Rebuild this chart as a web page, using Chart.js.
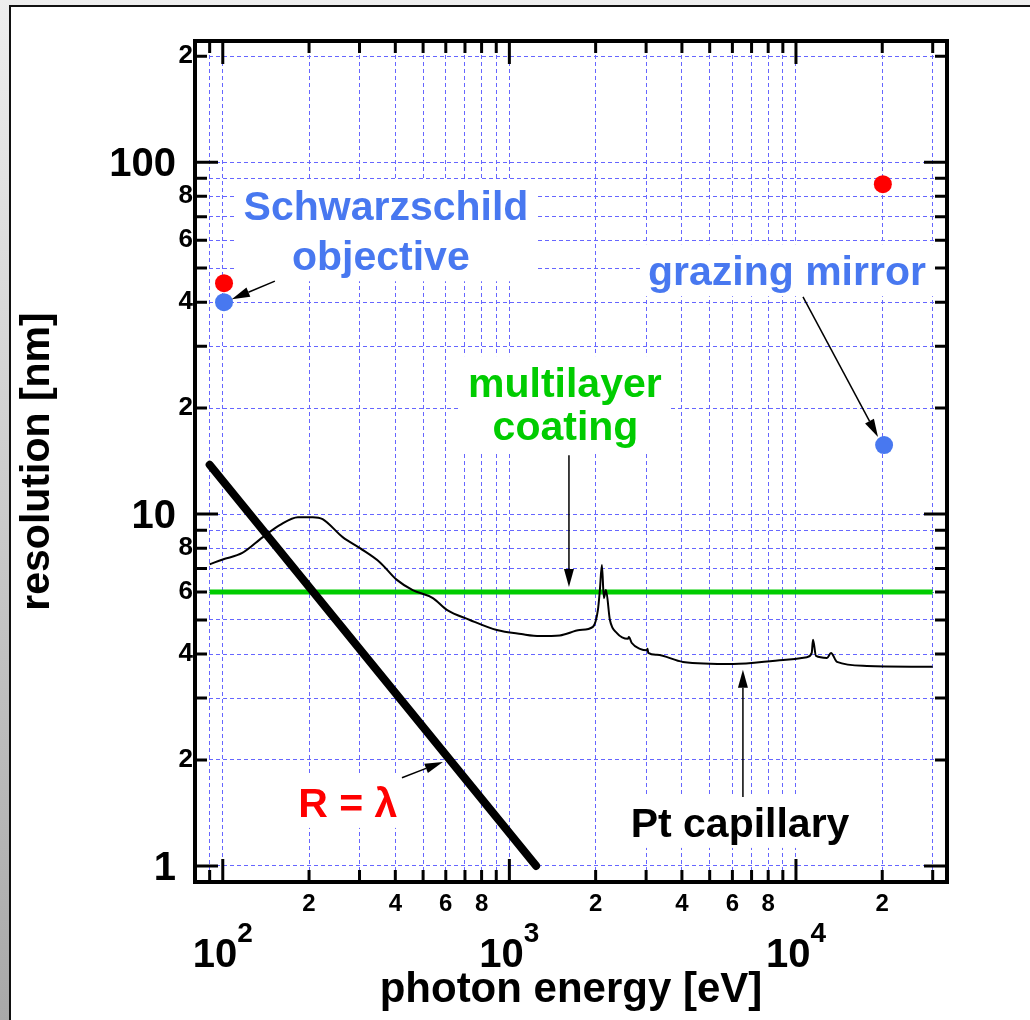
<!DOCTYPE html>
<html>
<head>
<meta charset="utf-8">
<title>resolution vs photon energy</title>
<script src="https://cdn.jsdelivr.net/npm/chart.js"></script>
<style>
    html, body { margin: 0; padding: 0; }
    body {
        width: 1030px; height: 1020px; overflow: hidden; position: relative;
        background: linear-gradient(#eeeeee, #a8a8a8);
    }
    .sheet {
        position: absolute; left: 9px; top: 5px; right: -10px; bottom: -10px;
        background: #fff; border-left: 2px solid #111; border-top: 2px solid #111;
    }
    #chart { position: absolute; left: 0; top: 0; }
</style>
</head>
<body>
<div class="sheet"></div>
<canvas id="chart" width="1030" height="1020"></canvas>
<script>
// ** Datos **
const xTicks = [90, 100, 200, 300, 400, 500, 600, 700, 800, 900,
    1000, 2000, 3000, 4000, 5000, 6000, 7000, 8000, 9000,
    10000, 20000, 30000];
const yTicks = [1, 2, 3, 4, 5, 6, 7, 8, 9, 10, 20, 30, 40, 50, 60, 70, 80, 90, 100, 200];

// R = lambda
const lambdaE = [90, 1240];
const lambdaR = [13.8, 1.0];

// multilayer coating
const multilayerE = [90, 30000];
const multilayerR = [6, 6];

// Pt capillary
const ptE = [90, 100, 117, 138, 158, 183, 206, 223, 262, 301,
    353, 405, 460, 541, 605, 728, 904, 1100, 1276, 1500,
    1761, 1956, 2037, 2069, 2103, 2137, 2172, 2243, 2373, 2592,
    2613, 2674, 2855, 3020, 3035, 3052, 3273, 4033, 6039, 9023,
    10925, 11350, 11467, 11744, 12830, 13250, 13903, 17690, 30000];
const ptR = [7.2, 7.43, 7.75, 8.6, 9.3, 9.8, 9.8, 9.68, 8.6, 8.0,
    7.3, 6.5, 6.08, 5.77, 5.34, 5.0, 4.68, 4.56, 4.5, 4.52,
    4.68, 4.78, 5.34, 6.08, 7.17, 5.77, 6.08, 5.0, 4.59, 4.42,
    4.47, 4.30, 4.14, 4.10, 4.14, 4.03, 3.98, 3.80, 3.75, 3.85,
    3.92, 4.03, 4.39, 3.95, 3.90, 4.03, 3.80, 3.70, 3.68];

// puntos rojos y azules
const redE = [101, 20100];
const redR = [45.3, 86.6];
const blueE = [101, 20300];
const blueR = [40.0, 15.7];

const FONT = "'Liberation Sans', Arial, sans-serif";
const BLUE = '#4878f0';
const GREEN = '#00cc00';
const GRID = '#6666ff';

// textos y flechas, en coordenadas de datos (E en eV, R en nm)
const notes = [
    { lines: ['Schwarzschild', 'objective'], e: [371, 356], r: [68.4, 49.3], color: BLUE },
    { lines: ['grazing mirror'], e: [9300], r: [44.7], color: BLUE },
    { lines: ['multilayer', 'coating'], e: [1562, 1570], r: [21.5, 16.2], color: GREEN },
    { lines: ['R = \u03bb'], e: [273], r: [1.378], color: '#ff0000' },
    { lines: ['Pt capillary'], e: [6380], r: [1.209], color: '#000' },
];
const arrows = [
    { from: [152, 45.9], to: [107.5, 40.8] },
    { from: [10580, 41.4], to: [19330, 16.55] },
    { from: [1614, 14.7], to: [1614, 6.2] },
    { from: [422, 1.78], to: [586, 1.975] },
    { from: [6530, 1.57], to: [6530, 3.61] },
];

const toPoints = (xs, ys) => xs.map((v, i) => ({ x: v, y: ys[i] }));
const mantissa = v => Math.round(v / Math.pow(10, Math.floor(Math.log10(v) + 1e-9)));
const minorLabel = v => [2, 4, 6, 8].includes(mantissa(v)) ? String(mantissa(v)) : '';

// ** Cajas blancas detrás de los textos **
const notesPlugin = {
    id: 'notes',
    beforeDatasetsDraw(chart) {
        const { ctx, scales: { x, y } } = chart;
        ctx.save();
        ctx.font = `bold 41px ${FONT}`;
        ctx.fillStyle = '#fff';
        notes.forEach(n => {
            let l = Infinity, r = -Infinity;
            n.lines.forEach((t, i) => {
                const w = ctx.measureText(t).width;
                const cx = x.getPixelForValue(n.e[i]);
                l = Math.min(l, cx - w / 2);
                r = Math.max(r, cx + w / 2);
            });
            const top = y.getPixelForValue(n.r[0]) - 41;
            const bottom = y.getPixelForValue(n.r[n.r.length - 1]) + 11;
            ctx.fillRect(l - 8, top, r - l + 16, bottom - top);
        });
        ctx.restore();
    },
    afterDatasetsDraw(chart) {
        const { ctx, scales: { x, y } } = chart;
        ctx.save();
        ctx.font = `bold 41px ${FONT}`;
        ctx.textAlign = 'center';
        ctx.textBaseline = 'alphabetic';
        notes.forEach(n => {
            ctx.fillStyle = n.color;
            n.lines.forEach((t, i) => {
                ctx.fillText(t, x.getPixelForValue(n.e[i]), y.getPixelForValue(n.r[i]));
            });
        });

        ctx.strokeStyle = '#000';
        ctx.fillStyle = '#000';
        ctx.lineWidth = 1.5;
        arrows.forEach(a => {
            const x0 = x.getPixelForValue(a.from[0]), y0 = y.getPixelForValue(a.from[1]);
            const x1 = x.getPixelForValue(a.to[0]), y1 = y.getPixelForValue(a.to[1]);
            const ang = Math.atan2(y1 - y0, x1 - x0);
            const head = 18, half = 5;
            const bx = x1 - head * Math.cos(ang), by = y1 - head * Math.sin(ang);
            ctx.beginPath();
            ctx.moveTo(x0, y0);
            ctx.lineTo(bx, by);
            ctx.stroke();
            ctx.beginPath();
            ctx.moveTo(x1, y1);
            ctx.lineTo(bx + half * Math.sin(ang), by - half * Math.cos(ang));
            ctx.lineTo(bx - half * Math.sin(ang), by + half * Math.cos(ang));
            ctx.closePath();
            ctx.fill();
        });
        ctx.restore();
    }
};

// ** Marco, marcas hacia dentro y etiquetas de décadas **
const framePlugin = {
    id: 'frame',
    afterDraw(chart) {
        const { ctx, chartArea: a, scales: { x, y } } = chart;
        ctx.save();
        ctx.strokeStyle = '#000';
        ctx.lineWidth = 3;
        ctx.beginPath();
        xTicks.forEach(v => {
            const px = x.getPixelForValue(v);
            const len = mantissa(v) === 1 ? 23 : 12;
            ctx.moveTo(px, a.bottom); ctx.lineTo(px, a.bottom - len);
            ctx.moveTo(px, a.top); ctx.lineTo(px, a.top + len);
        });
        yTicks.forEach(v => {
            const py = y.getPixelForValue(v);
            const len = mantissa(v) === 1 ? 23 : 12;
            ctx.moveTo(a.left, py); ctx.lineTo(a.left + len, py);
            ctx.moveTo(a.right, py); ctx.lineTo(a.right - len, py);
        });
        ctx.stroke();
        ctx.lineWidth = 4;
        ctx.strokeRect(a.left, a.top, a.right - a.left, a.bottom - a.top);

        ctx.fillStyle = '#000';
        ctx.textBaseline = 'alphabetic';
        // 10^n en el eje x
        xTicks.filter(v => mantissa(v) === 1).forEach(v => {
            const exp = String(Math.round(Math.log10(v)));
            ctx.font = `bold 40px ${FONT}`;
            const w1 = ctx.measureText('10').width;
            ctx.font = `bold 28px ${FONT}`;
            const w2 = ctx.measureText(exp).width;
            const start = x.getPixelForValue(v) - (w1 + w2) / 2;
            ctx.textAlign = 'left';
            ctx.font = `bold 40px ${FONT}`;
            ctx.fillText('10', start, a.bottom + 85);
            ctx.font = `bold 28px ${FONT}`;
            ctx.fillText(exp, start + w1, a.bottom + 60);
        });
        // 1, 10, 100 en el eje y
        ctx.textAlign = 'right';
        ctx.font = `bold 40px ${FONT}`;
        yTicks.filter(v => mantissa(v) === 1).forEach(v => {
            ctx.fillText(String(v), a.left - 19, y.getPixelForValue(v) + 14);
        });
        ctx.restore();
    }
};

document.addEventListener('DOMContentLoaded', () => {
    const ctx = document.getElementById('chart').getContext('2d');

    new Chart(ctx, {
        type: 'scatter',
        data: {
            datasets: [
                { data: toPoints(redE, redR), backgroundColor: '#ff0000', pointRadius: 9, borderWidth: 0 },
                { data: toPoints(blueE, blueR), backgroundColor: BLUE, pointRadius: 9, borderWidth: 0 },
                { data: toPoints(lambdaE, lambdaR), showLine: true, borderColor: '#000', borderWidth: 8,
                  borderCapStyle: 'round', pointRadius: 0 },
                { data: toPoints(ptE, ptR), showLine: true, borderColor: '#000', borderWidth: 2,
                  cubicInterpolationMode: 'monotone', pointRadius: 0 },
                { data: toPoints(multilayerE, multilayerR), showLine: true, borderColor: GREEN, borderWidth: 5,
                  pointRadius: 0 },
            ]
        },
        options: {
            responsive: false,
            devicePixelRatio: 1,
            animation: false,
            layout: { padding: { top: 41, right: 83, left: 0, bottom: 0 } },
            plugins: { legend: { display: false }, tooltip: { enabled: false } },
            scales: {
                x: {
                    type: 'logarithmic',
                    min: 80, max: 33650,
                    afterBuildTicks: s => { s.ticks = xTicks.map(v => ({ value: v })); },
                    afterFit: s => { s.height = 138; },
                    grid: { color: GRID, lineWidth: 1, drawTicks: false },
                    border: { display: false, dash: [4, 3] },
                    ticks: {
                        autoSkip: false, maxRotation: 0, minRotation: 0, padding: 8, color: '#000',
                        font: { family: FONT, size: 24, weight: 'bold' },
                        callback: v => minorLabel(v)
                    },
                    title: {
                        display: true, text: 'photon energy [eV]', color: '#000',
                        font: { family: FONT, size: 42, weight: 'bold' },
                        padding: { top: 0, bottom: 4 }
                    }
                },
                y: {
                    type: 'logarithmic',
                    min: 0.9, max: 221,
                    afterBuildTicks: s => { s.ticks = yTicks.map(v => ({ value: v })); },
                    afterFit: s => { s.width = 195; },
                    grid: { color: GRID, lineWidth: 1, drawTicks: false },
                    border: { display: false, dash: [4, 3] },
                    ticks: {
                        autoSkip: false, padding: 2, color: '#000',
                        font: { family: FONT, size: 26, weight: 'bold' },
                        callback: v => minorLabel(v)
                    },
                    title: {
                        display: true, text: 'resolution [nm]', color: '#000',
                        font: { family: FONT, size: 41, weight: 'bold' },
                        padding: { top: 13, bottom: 0 }
                    }
                }
            }
        },
        plugins: [notesPlugin, framePlugin]
    });
});
</script>
</body>
</html>
